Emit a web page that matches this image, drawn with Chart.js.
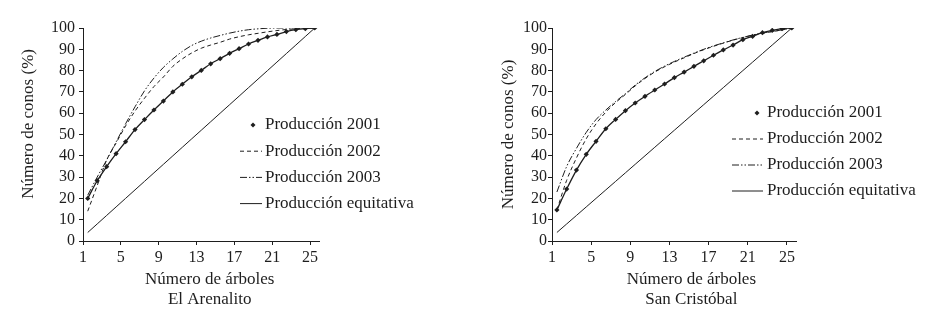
<!DOCTYPE html>
<html>
<head>
<meta charset="utf-8">
<script src="https://cdn.jsdelivr.net/npm/chart.js@4.4.1/dist/chart.umd.min.js"></script>
<style>
  body { margin: 0; background: #fff; }
  canvas { position: absolute; top: 0; }
  #left { left: 0; }
  #right { left: 470px; }
</style>
</head>
<body>
<canvas id="left" width="470" height="322"></canvas>
<canvas id="right" width="475" height="322"></canvas>
<script>
// 🔹 Trees (x categories) and the labelled ticks
const trees = [1, 2, 3, 4, 5, 6, 7, 8, 9, 10, 11, 12, 13, 14, 15, 16, 17, 18, 19, 20, 21, 22, 23, 24, 25];
const xTicks = [1, 5, 9, 13, 17, 21, 25];
const seriesNames = ["Producción 2001", "Producción 2002", "Producción 2003", "Producción equitativa"];

// 🔹 El Arenalito, cumulative cones (%)
const arenalito2001 = [20, 28.3, 34.9, 41, 46.6, 52.3, 57, 61.5, 65.7, 70, 73.6, 77.1, 80.1, 83.2, 85.6, 88.1, 90.3, 92.5, 94.2, 95.8, 97, 98.3, 99.2, 99.7, 100];
const arenalito2002 = [14, 26, 38, 46, 54, 61, 67, 72.5, 77, 82, 85.5, 88.3, 90.5, 92, 93.3, 94.8, 95.9, 96.8, 97.5, 98.2, 98.8, 99.3, 99.6, 99.9, 100];
const arenalito2003 = [21.5, 30, 38, 46.5, 55, 63, 70.5, 76.5, 81.5, 85.5, 89, 91.8, 93.8, 95.3, 96.5, 97.6, 98.5, 99.2, 99.6, 99.9, 100, 100, 100, 100, 100];

// 🔹 San Cristóbal, cumulative cones (%)
const cristobal2001 = [14.6, 24.4, 33.3, 40.7, 46.8, 52.7, 57.1, 61.2, 64.8, 67.9, 70.9, 73.7, 76.7, 79.3, 82, 84.6, 87.2, 89.7, 92, 94.5, 96.1, 97.8, 98.9, 99.7, 100];
const cristobal2002 = [14.6, 28.5, 39, 48, 55, 60.5, 65, 68.8, 72.8, 76.3, 79.3, 81.8, 84, 86, 88, 89.8, 91.4, 92.9, 94.3, 95.5, 96.6, 97.5, 98.3, 99.1, 100];
const cristobal2003 = [23, 35, 43.5, 51, 57, 61.5, 65.5, 69.2, 73.2, 76.6, 79.6, 82.1, 84.3, 86.3, 88.2, 90, 91.6, 93, 94.4, 95.6, 96.7, 97.6, 98.4, 99.1, 100];

// 🔹 Equal production line (same for both sites)
const equitativa = [4, 8, 12, 16, 20, 24, 28, 32, 36, 40, 44, 48, 52, 56, 60, 64, 68, 72, 76, 80, 84, 88, 92, 96, 100];

const ink = "#1e1e1e";
const serif = "'Liberation Serif', 'DejaVu Serif', serif";

// 🔹 Small legend drawn inside the panel
const legendBox = {
  id: "legendBox",
  afterDraw(chart, args, opts) {
    const ctx = chart.ctx;
    ctx.save();
    ctx.font = "17px " + serif;
    ctx.fillStyle = ink;
    ctx.strokeStyle = ink;
    ctx.textBaseline = "middle";
    chart.data.datasets.forEach((ds, i) => {
      const y = opts.y + i * opts.gap;
      if (ds.pointRadius > 0) {
        ctx.beginPath();
        ctx.moveTo(opts.dot, y - 2.5);
        ctx.lineTo(opts.dot + 2.5, y);
        ctx.lineTo(opts.dot, y + 2.5);
        ctx.lineTo(opts.dot - 2.5, y);
        ctx.closePath();
        ctx.fill();
      } else {
        ctx.lineWidth = 1;
        ctx.setLineDash(ds.borderDash || []);
        ctx.beginPath();
        ctx.moveTo(opts.x0, y);
        ctx.lineTo(opts.x1, y);
        ctx.stroke();
        ctx.setLineDash([]);
      }
      ctx.fillText(ds.label, opts.textX, y);
    });
    ctx.restore();
  }
};

const makeChart = (id, v2001, v2002, v2003, p) => {
  const ctx = document.getElementById(id).getContext("2d");
  return new Chart(ctx, {
    type: "line",
    data: {
      labels: trees,
      datasets: [
        { label: seriesNames[0], data: v2001, borderColor: ink, backgroundColor: ink, borderWidth: 1.3,
          pointStyle: "rectRot", pointRadius: 2.6, pointBorderWidth: 0, cubicInterpolationMode: "monotone" },
        { label: seriesNames[1], data: v2002, borderColor: ink, borderWidth: 1, borderDash: [4, 3],
          pointRadius: 0, cubicInterpolationMode: "monotone" },
        { label: seriesNames[2], data: v2003, borderColor: ink, borderWidth: 1, borderDash: [7, 2, 1.5, 2, 1.5, 2],
          pointRadius: 0, cubicInterpolationMode: "monotone" },
        { label: seriesNames[3], data: equitativa, borderColor: ink, borderWidth: 1, pointRadius: 0 }
      ]
    },
    options: {
      responsive: false,
      animation: false,
      layout: { padding: { top: 28, right: p.padRight, bottom: 0, left: 0 } },
      plugins: {
        legend: { display: false },
        tooltip: { enabled: false },
        legendBox: p.legend
      },
      scales: {
        x: {
          type: "linear",
          min: 0.5,
          max: 25.5,
          afterBuildTicks: (axis) => { axis.ticks = xTicks.map((t) => ({ value: t - 0.5 })); },
          afterFit: (axis) => { axis.height = 81; },
          grid: { drawOnChartArea: false, tickLength: 4, color: ink },
          border: { color: ink, width: 1 },
          ticks: { color: ink, font: { family: serif, size: 16 }, padding: 3, autoSkip: false, maxRotation: 0,
            callback: (v) => v + 0.5 },
          title: { display: true, text: p.xTitle, color: ink, font: { family: serif, size: 17 },
            padding: { top: 0, bottom: 12 } }
        },
        y: {
          min: 0,
          max: 100,
          afterFit: (axis) => { axis.width = p.yWidth; },
          grid: { drawOnChartArea: false, tickLength: 4, color: ink },
          border: { color: ink, width: 1 },
          ticks: { stepSize: 10, autoSkip: false, color: ink, font: { family: serif, size: 16 }, padding: p.yPad },
          title: { display: true, text: p.yTitle, color: ink, font: { family: serif, size: 17 },
            padding: { top: p.yTitleOff, bottom: 0 } }
        }
      }
    },
    plugins: [legendBox]
  });
};

makeChart("left", arenalito2001, arenalito2002, arenalito2003, {
  padRight: 150.5, yWidth: 83, yPad: 4, yTitleOff: 18,
  yTitle: "     Número de conos (%)",
  xTitle: ["    Número de árboles", "    El Arenalito"],
  legend: { y: 125, gap: 26.2, dot: 253, x0: 240, x1: 262, textX: 265 }
});

makeChart("right", cristobal2001, cristobal2002, cristobal2003, {
  padRight: 148.3, yWidth: 82, yPad: 1, yTitleOff: 28,
  yTitle: "Número de conos (%)",
  xTitle: ["        Número de árboles", "        San Cristóbal"],
  legend: { y: 113, gap: 26, dot: 287, x0: 262, x1: 293, textX: 297 }
});
</script>
</body>
</html>
